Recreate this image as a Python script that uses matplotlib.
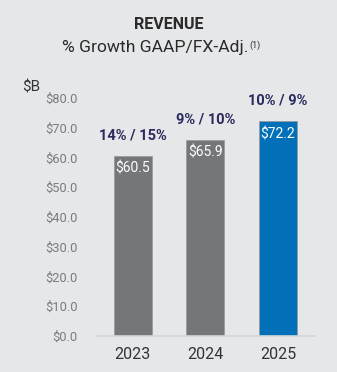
import matplotlib.pyplot as plt

# Revenue by year, $B
years = ["2023", "2024", "2025"]
revenue = [60.5, 65.9, 72.2]
growth = ["14% / 15%", "9% / 10%", "10% / 9%"]
bar_colors = ["#757679", "#757679", "#0270b9"]
yticks = [0, 10, 20, 30, 40, 50, 60, 70, 80]

plt.rcParams['font.family'] = ['Roboto', 'DejaVu Sans']
bg = "#e6e7e9"

fig = plt.figure(figsize=(3.37, 3.72), dpi=100, facecolor=bg)
ax = fig.add_axes([0.288, 0.0968, 0.647, 0.6398], facecolor=bg)

x = range(len(years))
bars = ax.bar(x, revenue, width=0.52, color=bar_colors, edgecolor="#9a9b9e", linewidth=0.6, zorder=2)

for i, (v, g) in enumerate(zip(revenue, growth)):
    ax.text(i, v - 2.0, f"${v:.1f}", ha="center", va="top", color="white", fontsize=10)
    ax.text(i, v + 4.5, g, ha="center", va="bottom", color="#2b2a5e", fontsize=10.5, fontweight="bold",
            clip_on=False)

ax.set_xlim(-0.49, 2.51)
ax.set_ylim(0, 80)
ax.set_yticks(yticks)
ax.set_yticklabels([f"${t:.1f}" for t in yticks], color="#7b7b7d", fontsize=9.3)
ax.set_xticks(list(x))
ax.set_xticklabels(years, color="#333333", fontsize=11.5)
ax.tick_params(axis="both", length=0)
ax.tick_params(axis="y", pad=14)
ax.tick_params(axis="x", pad=8)
for s in ["top", "right", "left"]:
    ax.spines[s].set_visible(False)
ax.spines["bottom"].set_color("#d3d4d6")
ax.spines["bottom"].set_linewidth(1.2)

fig.text(0.065, 0.765, "$B", fontsize=11, color="#333333", ha="left", va="center")
fig.text(0.5, 0.935, "REVENUE", ha="center", va="center", fontsize=11.5, fontweight="bold", color="#2a2a2a")
fig.text(0.738, 0.873, "% Growth GAAP/FX-Adj.", ha="right", va="center", fontsize=12.6, color="#2a2a2a")
fig.text(0.741, 0.878, "(1)", ha="left", va="center", fontsize=6.5, color="#2a2a2a")

fig.savefig("out.png", dpi=100, facecolor=bg)
